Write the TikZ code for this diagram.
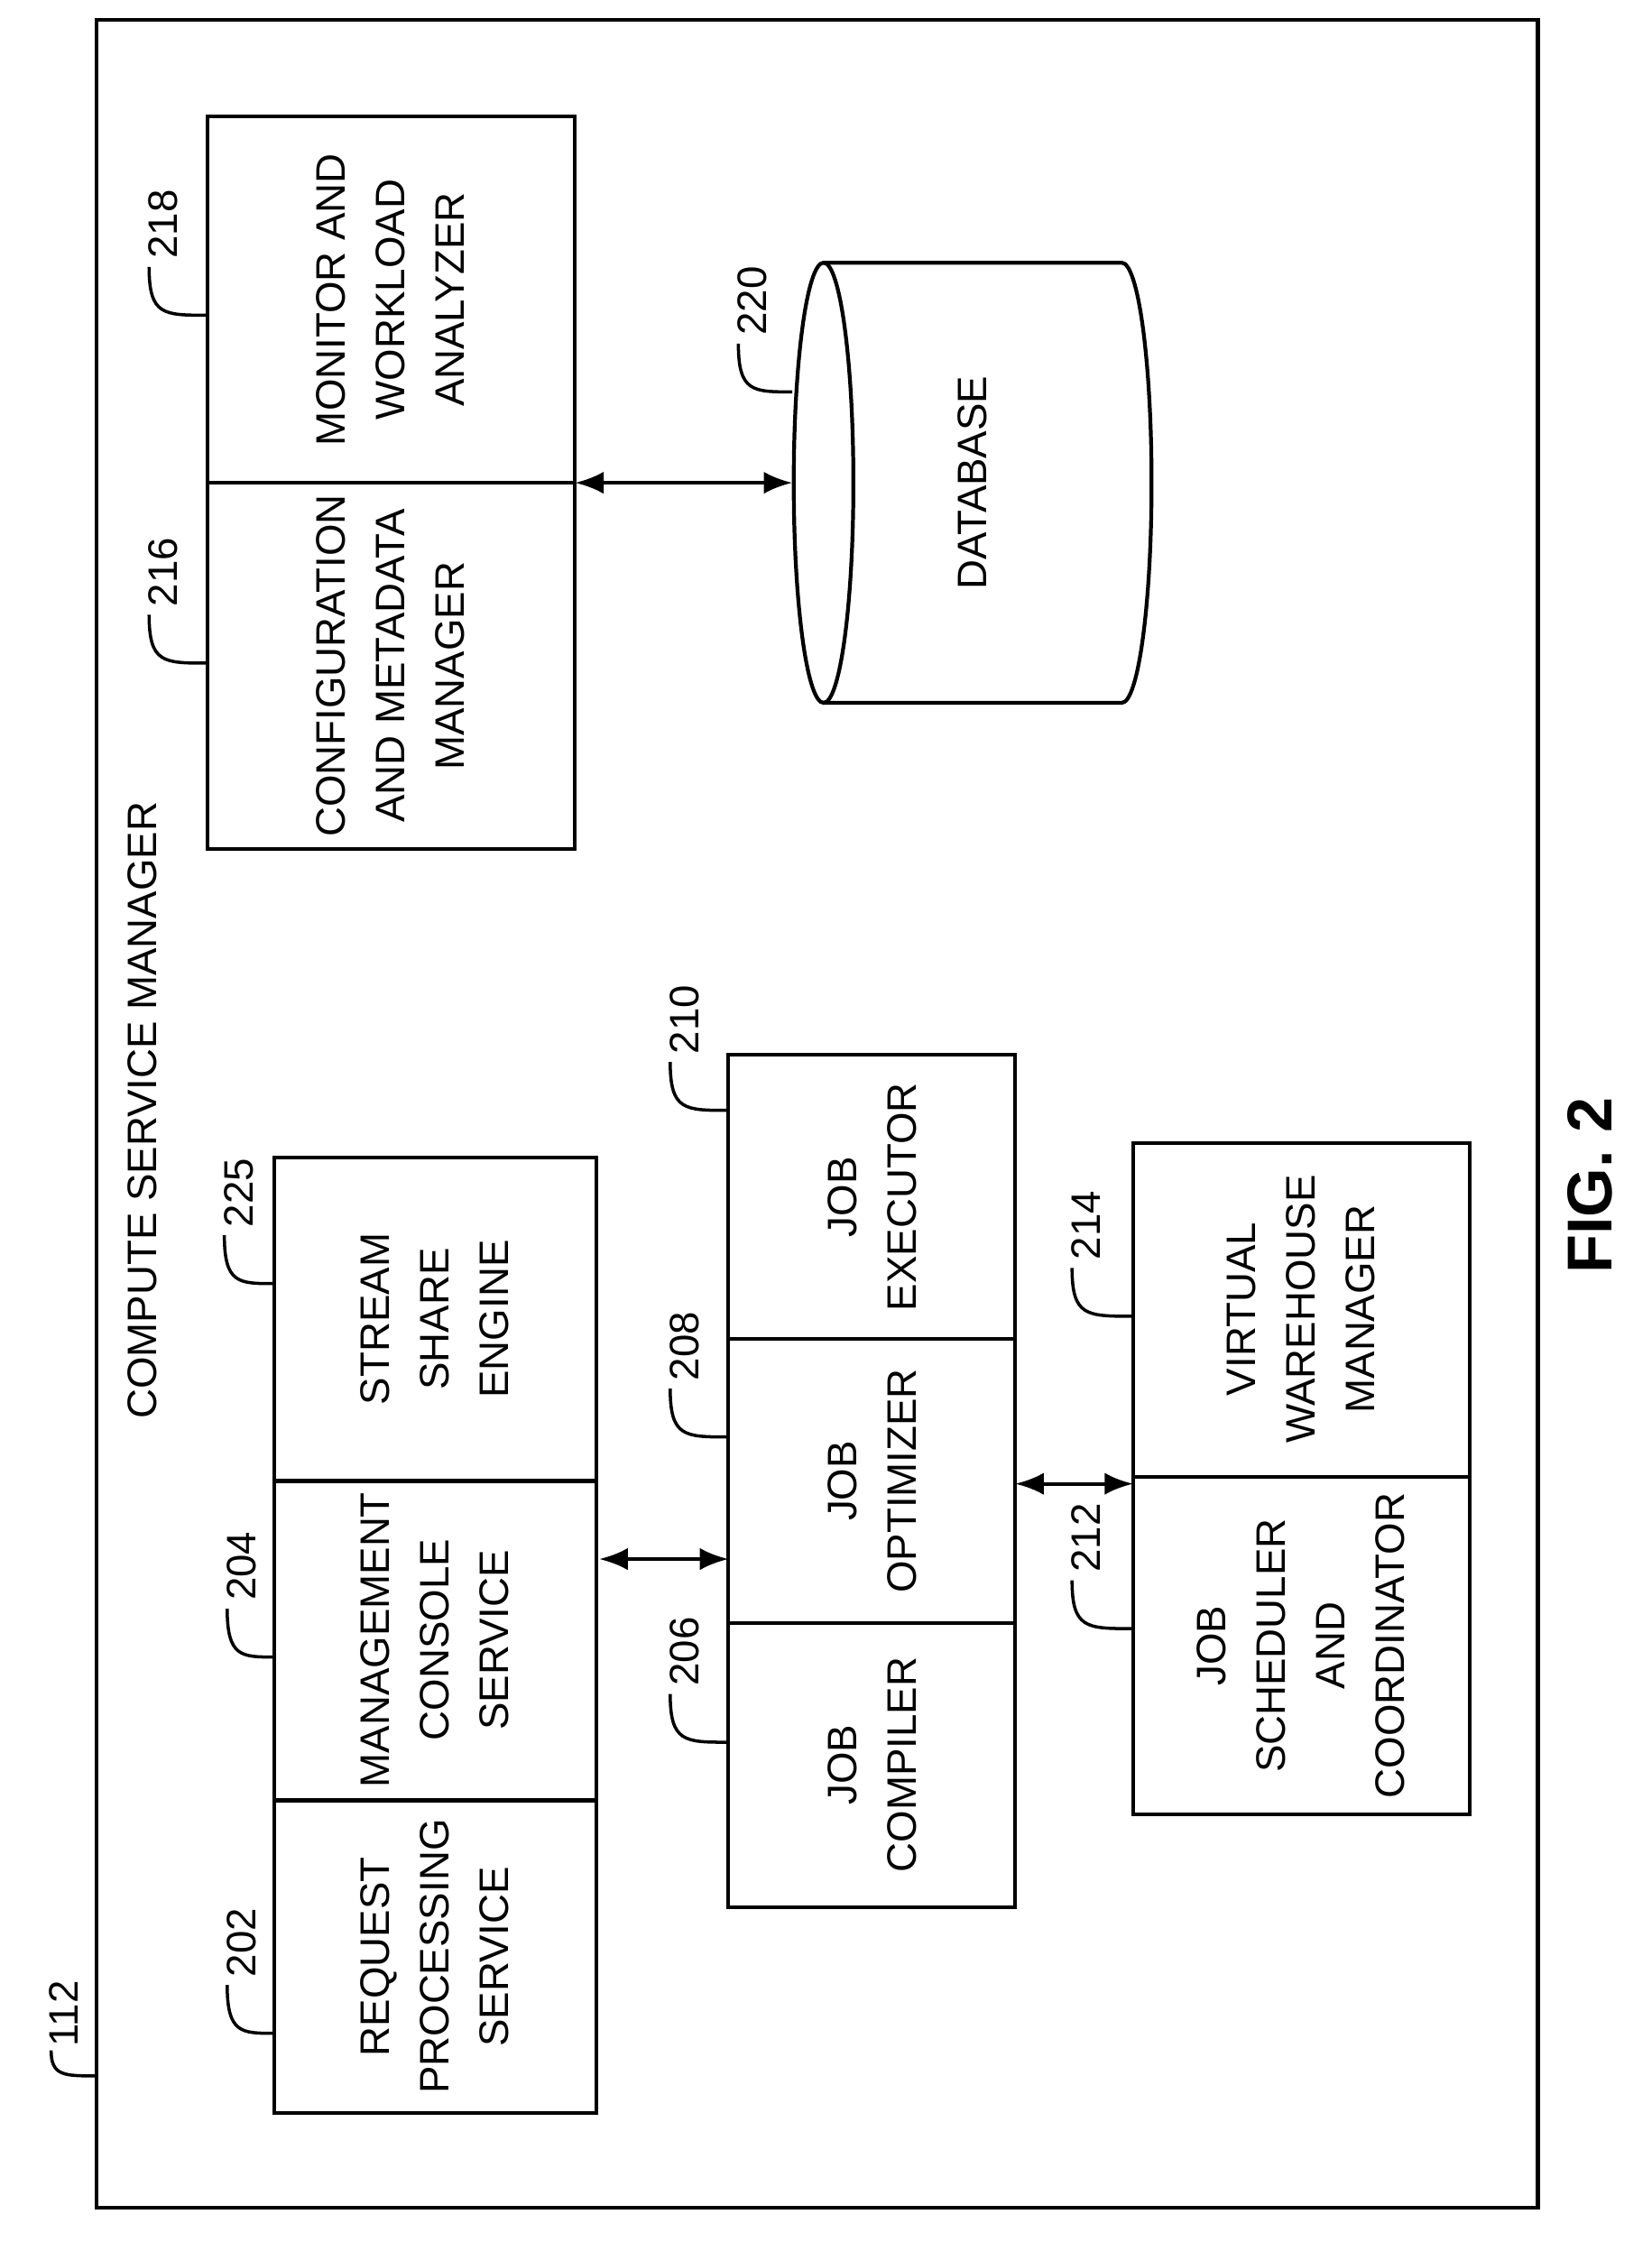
\documentclass[tikz,border=0pt]{standalone}
\usepackage{fontspec}
\setmainfont{Liberation Sans}
\usetikzlibrary{arrows.meta}
\begin{document}
\begin{tikzpicture}[x=0.01574cm,y=-0.01574cm,
   blk/.style={draw,line width=1.2pt},
   txt/.style={rotate=90,align=center,font=\fontsize{13}{18.8}\selectfont},
   num/.style={rotate=90,font=\fontsize{13}{16}\selectfont},
   lead/.style={line width=1pt},
   arr/.style={line width=1.2pt,{Latex[length=9pt,width=7pt]}-{Latex[length=9pt,width=7pt]}}]
   \useasboundingbox (0,0) rectangle (1163,1579);
   % Frame
   \draw[blk] (68,14) rectangle (1083,1555);
   \node[num] (n112) at (45,1418) {112};
   \draw[lead] (36,1444) .. controls (36,1462) and (45,1462) .. (68,1462);
   \node[txt] (title) at (100,782) {COMPUTE SERVICE MANAGER};
   % Boxes
   \draw[blk] (193,815) rectangle (420,1488);
   \draw[blk] (193,1043) -- (420,1043);
   \draw[blk] (193,1268) -- (420,1268);
   \node[txt] (b202) at (306,1378) {REQUEST\\PROCESSING\\SERVICE};
   \node[txt] (b204) at (306,1155) {MANAGEMENT\\CONSOLE\\SERVICE};
   \node[txt] (b225) at (306,929) {STREAM\\SHARE\\ENGINE};
   \draw[blk] (513,743) rectangle (715,1343);
   \draw[blk] (513,943) -- (715,943);
   \draw[blk] (513,1143) -- (715,1143);
   \node[txt] (b206) at (614,1243) {JOB\\COMPILER};
   \node[txt] (b208) at (614,1043) {JOB\\OPTIMIZER};
   \node[txt] (b210) at (614,843) {JOB\\EXECUTOR};
   \draw[blk] (798,805) rectangle (1035,1278);
   \draw[blk] (798,1040) -- (1035,1040);
   \node[txt] (b212) at (916,1159) {JOB\\SCHEDULER\\AND\\COORDINATOR};
   \node[txt] (b214) at (916,922) {VIRTUAL\\WAREHOUSE\\MANAGER};
   \draw[blk] (146,82) rectangle (405,598);
   \draw[blk] (146,340) -- (405,340);
   \node[txt] (b216) at (275,469) {CONFIGURATION\\AND METADATA\\MANAGER};
   \node[txt] (b218) at (275,211) {MONITOR AND\\WORKLOAD\\ANALYZER};
   % Database
   \draw[blk] (580,340) ellipse [x radius=21,y radius=155];
   \draw[blk] (580,185) -- (790,185) arc[start angle=-90,end angle=90,x radius=21,y radius=155] -- (580,495);
   \node[txt] (db) at (685,340) {DATABASE};
   % Arrows
   \draw[arr] (405,340) -- (558,340);
   \draw[arr] (422,1098) -- (513,1098);
   \draw[arr] (715,1045) -- (798,1045);
   % Reference numerals
   \foreach \t/\x/\y/\bx in {202/170/1368/193,204/170/1103/193,225/168/840/193,
      206/482/1163/513,208/482/948/513,210/482/718/513,212/765/1083/798,
      214/765/863/798,216/115/403/146,218/115/158/146,220/530/212/558} {
      \node[num] (n\t) at (\x,\y) {\t};
      \draw[lead] (\x-10,\y+30) .. controls (\x-10,\y+64) and (\x,\y+64) .. (\bx,\y+64);
   }
   \node[rotate=90,font=\bfseries\fontsize{20}{24}\selectfont] (fig) at (1120,835) {FIG. 2};
\end{tikzpicture}
\end{document}
